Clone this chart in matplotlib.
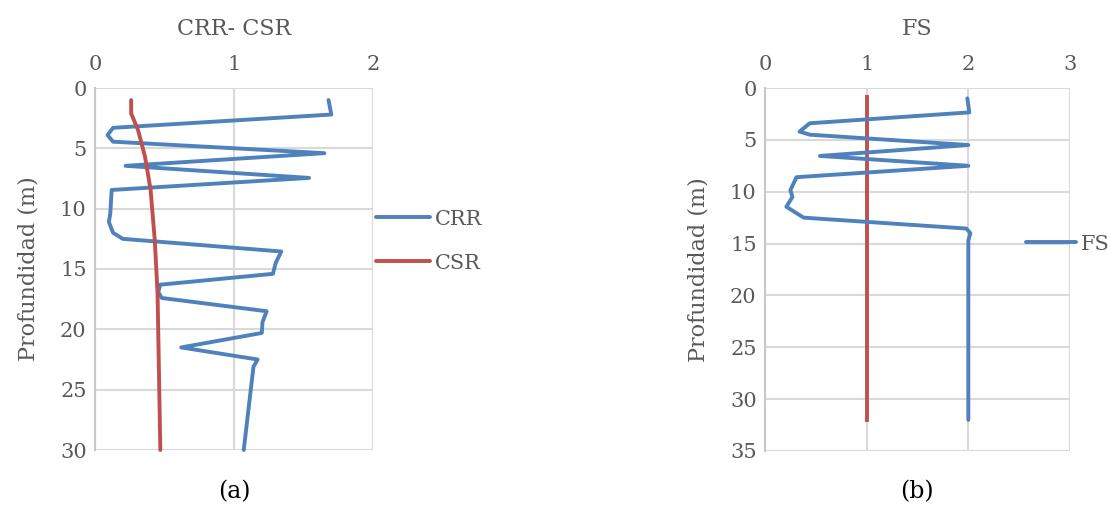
import matplotlib
matplotlib.use("Agg")
import matplotlib.pyplot as plt

# (a) CRR and CSR against depth
crr_depth = [1.0, 2.2, 3.3, 3.9, 4.45, 5.4, 6.45, 7.45, 8.45, 10.4, 11.1, 12.0, 12.5,
             13.55, 14.5, 15.4, 16.3, 16.9, 17.4, 18.5, 19.4, 20.3, 21.5, 22.5, 23.1, 30.0]
crr = [1.68, 1.70, 0.13, 0.09, 0.13, 1.65, 0.22, 1.54, 0.12, 0.11, 0.10, 0.13, 0.20,
       1.34, 1.30, 1.28, 0.47, 0.455, 0.48, 1.235, 1.205, 1.20, 0.62, 1.17, 1.14, 1.07]
csr_depth = [1.0, 2.1, 3.5, 5.7, 8.45, 12.6, 17.0, 30.0]
csr = [0.26, 0.26, 0.31, 0.36, 0.40, 0.43, 0.45, 0.47]

# (b) factor of safety, capped at 2
fs_depth = [1.0, 2.35, 3.4, 4.2, 4.5, 5.5, 6.55, 7.5, 8.6, 9.85, 10.5, 11.45, 12.5,
            13.55, 14.0, 14.7, 32.0]
fs = [1.99, 2.01, 0.44, 0.34, 0.44, 2.0, 0.54, 2.0, 0.31, 0.25, 0.27, 0.21, 0.38,
      1.98, 2.02, 2.0, 2.0]
fs_limit_depth = [0.9, 32.0]
fs_limit = [1.0, 1.0]

BLUE = "#4f81bd"
RED = "#c0504d"
TXT = "#595959"
GRID = "#d9d9d9"
LW = 2.8

plt.rcParams["font.family"] = ["DejaVu Serif"]
plt.rcParams["font.size"] = 15

fig = plt.figure(figsize=(11.08, 5.09), dpi=100)
ax1 = fig.add_axes([95 / 1108, 1 - 450 / 509, 278 / 1108, 362 / 509])
ax2 = fig.add_axes([765 / 1108, 1 - 451 / 509, 305 / 1108, 363 / 509])


def style(ax, xmax, ymax, ystep, title):
    ax.set_xlim(0, xmax)
    ax.set_ylim(ymax, 0)
    ax.set_xticks(range(0, xmax + 1))
    ax.set_yticks(range(0, ymax + 1, ystep))
    ax.xaxis.tick_top()
    ax.tick_params(length=0, colors=TXT, labelsize=15, pad=6)
    ax.tick_params(axis="x", pad=10)
    ax.grid(True, color=GRID, linewidth=1.5)
    ax.set_axisbelow(True)
    for s in ax.spines.values():
        s.set_visible(False)
    ax.spines["left"].set_visible(True)
    ax.spines["left"].set_color("#c8c8c8")
    ax.spines["left"].set_linewidth(1.5)
    ax.set_ylabel("Profundidad (m)", color=TXT, fontsize=16, labelpad=15)
    ax.set_title(title, color=TXT, fontsize=16, pad=38)


def legend_style(leg):
    for t in leg.get_texts():
        t.set_color(TXT)
    for h in leg.get_lines():
        h.set_linewidth(LW)


ax1.plot(crr, crr_depth, color=BLUE, linewidth=LW, solid_joinstyle="round",
         solid_capstyle="round", label="CRR", clip_on=False)
ax1.plot(csr, csr_depth, color=RED, linewidth=LW, solid_joinstyle="round",
         solid_capstyle="round", label="CSR", clip_on=False)
style(ax1, 2, 30, 5, "CRR- CSR")
leg1 = ax1.legend(loc="center left", bbox_to_anchor=(0.982, 0.577), frameon=False,
                  handlelength=2.6, labelspacing=1.2, handletextpad=0.2,
                  borderaxespad=0.0, fontsize=15)
legend_style(leg1)

ax2.plot(fs_limit, fs_limit_depth, color=RED, linewidth=LW, clip_on=False)
ax2.plot(fs, fs_depth, color=BLUE, linewidth=LW, solid_joinstyle="round",
         solid_capstyle="round", label="FS", clip_on=False)
style(ax2, 3, 35, 5, "FS")
leg2 = ax2.legend(loc="center left", bbox_to_anchor=(0.83, 0.57), frameon=False,
                  handlelength=2.4, handletextpad=0.2, borderaxespad=0.0, fontsize=15)
legend_style(leg2)

fig.text(234 / 1108, 1 - 492 / 509, "(a)", ha="center", va="center", fontsize=17, color="black")
fig.text(917 / 1108, 1 - 492 / 509, "(b)", ha="center", va="center", fontsize=17, color="black")

fig.savefig("out.png", dpi=100)
